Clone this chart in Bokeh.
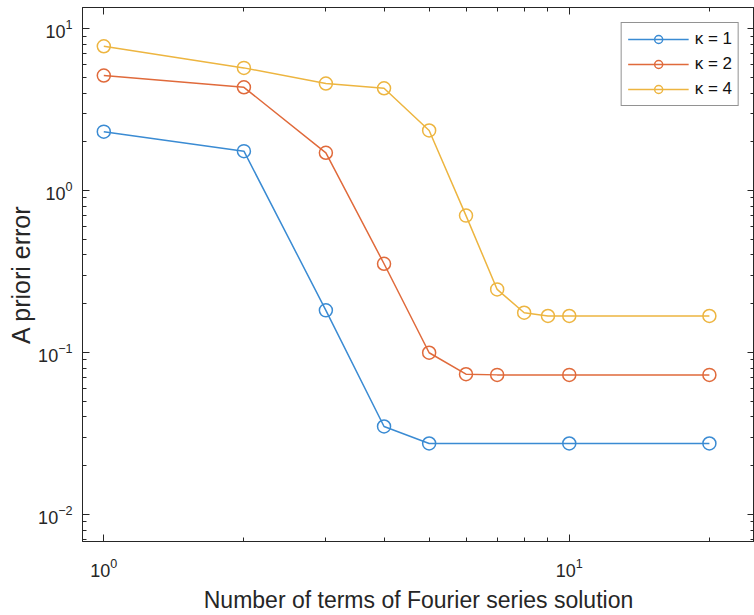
from bokeh.plotting import figure
from bokeh.models import (Range1d, LogAxis, FixedTicker, Legend, LegendItem, LogTickFormatter)
from bokeh.embed import file_html
from bokeh.resources import INLINE

# ---- data ----
x_k1 = [1, 2, 3, 4, 5, 10, 20]
err_k1 = [2.31, 1.75, 0.182, 0.0349, 0.0274, 0.0274, 0.0274]
x_k2 = [1, 2, 3, 4, 5, 6, 7, 10, 20]
err_k2 = [5.13, 4.34, 1.71, 0.353, 0.0996, 0.0734, 0.0727, 0.0727, 0.0727]
x_k4 = [1, 2, 3, 4, 5, 6, 7, 8, 9, 10, 20]
err_k4 = [7.78, 5.72, 4.58, 4.28, 2.35, 0.70, 0.245, 0.176, 0.168, 0.168, 0.168]
series_labels = ["κ = 1", "κ = 2", "κ = 4"]
x_major = [1, 10]
x_minor = [2, 3, 4, 5, 6, 7, 8, 9, 20]
y_major = [0.01, 0.1, 1, 10]
y_minor = [m * d for d in [0.001, 0.01, 0.1, 1] for m in range(2, 10)]
x_title = "Number of terms of Fourier series solution"
y_title = "A priori error"

colors = ["#3A8BD3", "#E06A3B", "#EDB540"]
FONT = "Liberation Sans"
AX = "#262626"
X0, X1 = 0.9, 25
Y0, Y1 = 0.0068, 13.5

p = figure(width=754, height=615, x_axis_type="log", y_axis_type="log",
           x_range=Range1d(X0, X1), y_range=Range1d(Y0, Y1),
           output_backend="svg", toolbar_location=None,
           min_border_left=82, min_border_right=0, min_border_top=7,
           min_border_bottom=74, background_fill_color="white",
           border_fill_color="white")
p.xgrid.visible = False
p.ygrid.visible = False
p.outline_line_color = AX
p.outline_line_width = 1


def style_axis(ax, major, minor, show_labels):
    ax.ticker = FixedTicker(ticks=major, minor_ticks=minor)
    ax.axis_line_color = AX
    ax.major_tick_line_color = AX
    ax.minor_tick_line_color = AX
    ax.major_tick_in = 7
    ax.major_tick_out = 0
    ax.minor_tick_in = 4
    ax.minor_tick_out = 0
    if show_labels:
        ax.formatter = LogTickFormatter(min_exponent=0)
        ax.major_label_text_font = FONT
        ax.major_label_text_font_size = "18px"
        ax.major_label_text_color = AX
    else:
        ax.major_label_text_font_size = "0px"
        ax.major_label_standoff = 0
        ax.major_label_text_color = None


xa = p.xaxis[0]
ya = p.yaxis[0]
style_axis(xa, x_major, x_minor, True)
style_axis(ya, y_major, y_minor, True)
xa.major_label_standoff = 16
ya.major_label_standoff = 10
xa.axis_label = x_title
ya.axis_label = y_title
for ax, fs in ((xa, "23px"), (ya, "25px")):
    ax.axis_label_text_font = FONT
    ax.axis_label_text_font_size = fs
    ax.axis_label_text_font_style = "normal"
    ax.axis_label_text_color = AX
xa.axis_label_standoff = 7
ya.axis_label_standoff = 0

top = LogAxis()
right = LogAxis()
style_axis(top, x_major, x_minor, False)
style_axis(right, y_major, y_minor, False)
p.add_layout(top, "above")
p.add_layout(right, "right")

items = []
for xs, ys, c, lab in zip([x_k1, x_k2, x_k4], [err_k1, err_k2, err_k4], colors, series_labels):
    ln = p.line(xs, ys, line_color=c, line_width=1.5)
    sc = p.scatter(xs, ys, marker="circle", size=13, line_color=c,
                   line_width=1.5, fill_color=None)
    items.append(LegendItem(label=lab, renderers=[ln, sc]))

legend = Legend(items=items, location="top_right", margin=15, padding=6,
                spacing=5, glyph_width=61, glyph_height=20, label_standoff=6,
                label_text_font=FONT, label_text_font_size="17px",
                label_text_color="#111111", border_line_color=AX,
                border_line_width=1, background_fill_color="white",
                background_fill_alpha=1.0)
p.add_layout(legend, "center")

open("out.html", "w").write(file_html(p, INLINE))
